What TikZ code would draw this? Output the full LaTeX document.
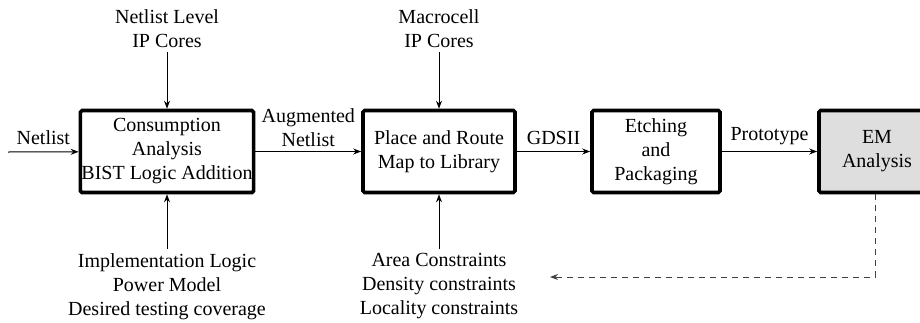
\documentclass[tikz,border=0pt]{standalone}
\usepackage{fontspec}
\setmainfont{Liberation Serif}
\usetikzlibrary{arrows.meta, positioning}

\begin{document}
\begin{tikzpicture}[x=0.5pt, y=-0.5pt, font=\fontsize{10}{12}\selectfont,
  block/.style={draw, line width=1.8pt, rounded corners=0.8pt, minimum height=41pt, align=center, inner xsep=0.5pt, inner ysep=2pt},
  lbl/.style={align=center, inner sep=2pt},
  flow/.style={-{Stealth[length=4pt, width=3pt]}, line width=0.5pt}]
\useasboundingbox (0,0) rectangle (920,322);
\clip (0,0) rectangle (920,322);

% process blocks
\node[block, minimum width=83pt] (cons) at (167,151.5) {Consumption\\Analysis\\BIST Logic Addition};
\node[block, minimum width=76pt] (pnr) at (439,151.5) {Place and Route\\Map to Library};
\node[block, minimum width=64pt] (etch) at (656,151.5) {Etching\\and\\Packaging};
\node[block, minimum width=58pt, fill=black!13] (em) at (877,151.5) {EM\\Analysis};

% side inputs
\node[lbl, anchor=south] (ipnet) at (167,52) {Netlist Level\\IP Cores};
\node[lbl, anchor=north] (impl) at (167,249) {Implementation Logic\\Power Model\\Desired testing coverage};
\node[lbl, anchor=south] (ipmac) at (439,52) {Macrocell\\IP Cores};
\node[lbl, anchor=north] (cstr) at (439,249) {Area Constraints\\Density constraints\\Locality constraints};

\coordinate (in) at (8,152);
\coordinate (back) at (550,277);

\draw[flow] (in) -- node[above] {Netlist} (cons);
\draw[flow] (ipnet) -- (cons);
\draw[flow] (impl) -- (cons);
\draw[flow] (cons) -- node[above, lbl] {Augmented\\Netlist} (pnr);
\draw[flow] (ipmac) -- (pnr);
\draw[flow] (cstr) -- (pnr);
\draw[flow] (pnr) -- node[above] {GDSII} (etch);
\draw[flow] (etch) -- node[above] {Prototype} (em);

% feedback
\draw[flow, dashed, dash pattern=on 3pt off 2.5pt, black!75] (em.south -| 875,0) |- (back);

\end{tikzpicture}
\end{document}
